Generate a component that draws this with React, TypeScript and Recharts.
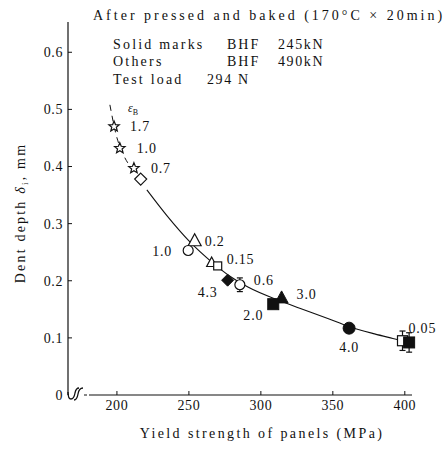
import { ComposedChart, ErrorBar, Line, Scatter, XAxis, YAxis } from "recharts"

const xTicks = [200, 250, 300, 350, 400]
const yTicks = [0, 0.1, 0.2, 0.3, 0.4, 0.5, 0.6]

// measured points: yield strength (MPa) vs dent depth (mm)
const strength = [198, 202, 211.8, 216.5, 254, 249.5, 265.8, 270, 276.9, 285.4, 314.4, 308.6, 361.3, 398.4, 403]
const depth = [0.47, 0.432, 0.397, 0.378, 0.27, 0.253, 0.232, 0.226, 0.201, 0.193, 0.17, 0.159, 0.117, 0.095, 0.092]
const markers = [
  "star", "star", "star", "diamond", "triangle", "circle", "triangleSmall", "squareSmall",
  "diamondFilled", "circle", "triangleFilled", "squareFilled", "circleFilled", "square", "squareFilled",
]
const strainLabels = ["1.7", "1.0", "0.7", "", "0.2", "1.0", "0.15", "", "4.3", "0.6", "3.0", "2.0", "4.0", "0.05", ""]
const depthError = [0, 0, 0, 0, 0, 0, 0, 0, 0, 0.012, 0, 0, 0, 0.017, 0.017]

// fitted curve
const curveStrength = [220.8, 234.7, 250.7, 265.3, 278.5, 291, 313.2, 327, 346.5, 361, 379, 391.7, 396.5]
const curveDepth = [0.359, 0.314, 0.268, 0.234, 0.208, 0.189, 0.165, 0.152, 0.134, 0.12, 0.107, 0.099, 0.096]

// dashed extension through the stars
const dashStrength = [195.1, 199.5, 205, 213.9]
const dashDepth = [0.508, 0.455, 0.418, 0.389]

// label placement per point: [dx, dy, anchor]
const labelPlacement: [number, number, string][] = [
  [16, 0, "start"], [17, 0, "start"], [17, 0, "start"], [0, 0, "start"],
  [10, 0, "start"], [-16, 1, "end"], [15, -3, "start"], [0, 0, "start"],
  [-10, 12, "end"], [14, -5, "start"], [15, -4, "start"], [-10, 11, "end"],
  [0, 19, "middle"], [6, -13, "start"], [0, 0, "start"],
]

const points = strength.map((x, i) => ({ x, y: depth[i], i, err: depthError[i] }))
const errPoints = points.filter((p) => p.err > 0)
const curve = curveStrength.map((x, i) => ({ x, y: curveDepth[i] }))
const dashed = dashStrength.map((x, i) => ({ x, y: dashDepth[i] }))

const FONT = '"Liberation Serif", "DejaVu Serif", serif'
const INK = "#111"

function starPath(cx: number, cy: number, r: number, ri: number) {
  let d = ""
  for (let k = 0; k < 10; k++) {
    const rad = k % 2 === 0 ? r : ri
    const a = -Math.PI / 2 + (k * Math.PI) / 5
    d += `${k === 0 ? "M" : "L"}${cx + rad * Math.cos(a)},${cy + rad * Math.sin(a)}`
  }
  return d + "Z"
}

function Marker({ kind, cx, cy }: { kind: string; cx: number; cy: number }) {
  const open = { fill: "#fff", stroke: INK, strokeWidth: 1.2 }
  const solid = { fill: INK, stroke: INK, strokeWidth: 1 }
  switch (kind) {
    case "star":
      return <path d={starPath(cx, cy, 5.5, 2.4)} {...open} />
    case "diamond":
      return <path d={`M${cx},${cy - 6}L${cx + 6},${cy}L${cx},${cy + 6}L${cx - 6},${cy}Z`} {...open} />
    case "diamondFilled":
      return <path d={`M${cx},${cy - 6}L${cx + 6},${cy}L${cx},${cy + 6}L${cx - 6},${cy}Z`} {...solid} />
    case "triangle":
      return <path d={`M${cx},${cy - 7}L${cx + 6.5},${cy + 5}L${cx - 6.5},${cy + 5}Z`} {...open} />
    case "triangleSmall":
      return <path d={`M${cx},${cy - 5.5}L${cx + 5},${cy + 4}L${cx - 5},${cy + 4}Z`} {...open} />
    case "triangleFilled":
      return <path d={`M${cx},${cy - 7}L${cx + 6.5},${cy + 5}L${cx - 6.5},${cy + 5}Z`} {...solid} />
    case "circle":
      return <circle cx={cx} cy={cy} r={5} {...open} />
    case "circleFilled":
      return <circle cx={cx} cy={cy} r={6} {...solid} />
    case "square":
      return <rect x={cx - 5} y={cy - 5} width={10} height={10} {...open} />
    case "squareSmall":
      return <rect x={cx - 4} y={cy - 4} width={8} height={8} {...open} />
    case "squareFilled":
      return <rect x={cx - 5.5} y={cy - 5.5} width={11} height={11} {...solid} />
    default:
      return null
  }
}

function PointShape(props: any) {
  const { cx, cy, payload } = props
  if (cx == null || cy == null) return <g />
  const i = payload.i
  const [dx, dy, anchor] = labelPlacement[i]
  return (
    <g>
      <Marker kind={markers[i]} cx={cx} cy={cy} />
      {strainLabels[i] && (
        <text
          x={cx + dx}
          y={cy + dy}
          dy="0.35em"
          textAnchor={anchor as any}
          fontFamily={FONT}
          fontSize={14}
          letterSpacing={0.8}
          fill={INK}
        >
          {strainLabels[i]}
        </text>
      )}
    </g>
  )
}

const tickStyle = { fontFamily: FONT, fontSize: 14, fill: INK, letterSpacing: 0.6 }

export default function App() {
  return (
    <div style={{ position: "absolute", left: 0, top: 0, width: 444, height: 450, background: "#fff" }}>
      <ComposedChart width={444} height={450} margin={{ top: 22, right: 32, bottom: 25, left: 8 }}>
        <XAxis
          type="number"
          dataKey="x"
          domain={[166, 405]}
          ticks={xTicks}
          height={30}
          tickSize={-4}
          tickMargin={9}
          tick={tickStyle}
          axisLine={{ stroke: INK, strokeWidth: 1.2 }}
          tickLine={{ stroke: INK }}
        />
        <YAxis
          type="number"
          dataKey="y"
          domain={[0, 0.653]}
          ticks={yTicks}
          width={60}
          tickSize={-4}
          tickMargin={9}
          tick={tickStyle}
          tickFormatter={(v: number) => (v === 0 ? "0" : v.toFixed(1))}
          axisLine={{ stroke: INK, strokeWidth: 1.2 }}
          tickLine={{ stroke: INK }}
        />
        <Line
          data={dashed}
          dataKey="y"
          type="monotone"
          stroke={INK}
          strokeWidth={1}
          strokeDasharray="6 5"
          dot={false}
          isAnimationActive={false}
        />
        <Line
          data={curve}
          dataKey="y"
          type="monotone"
          stroke={INK}
          strokeWidth={1.1}
          dot={false}
          isAnimationActive={false}
        />
        <Scatter data={errPoints} dataKey="y" shape={() => <g />} isAnimationActive={false}>
          <ErrorBar dataKey="err" direction="y" width={3} stroke={INK} strokeWidth={1.2} />
        </Scatter>
        <Scatter data={points} dataKey="y" shape={PointShape} isAnimationActive={false} />
      </ComposedChart>
      <svg
        width={444}
        height={450}
        style={{ position: "absolute", left: 0, top: 0, pointerEvents: "none" }}
        fontFamily={FONT}
        fontSize={14}
        fill={INK}
      >
        <text x={93} y={15} dy="0.35em" letterSpacing={3}>
          After pressed and baked (170°C × 20min)
        </text>
        <text x={113} y={44} dy="0.35em" letterSpacing={2.2}>Solid marks</text>
        <text x={227} y={44} dy="0.35em" letterSpacing={2}>BHF</text>
        <text x={278} y={44} dy="0.35em" letterSpacing={1.6}>245kN</text>
        <text x={113} y={61} dy="0.35em" letterSpacing={2.2}>Others</text>
        <text x={227} y={61} dy="0.35em" letterSpacing={2}>BHF</text>
        <text x={278} y={61} dy="0.35em" letterSpacing={1.6}>490kN</text>
        <text x={113} y={79} dy="0.35em" letterSpacing={2.2}>Test load</text>
        <text x={207} y={79} dy="0.35em" letterSpacing={1.6}>294 N</text>
        <text x={128} y={108} dy="0.35em" fontSize={12} fontStyle="italic">
          ε<tspan fontSize={8} dy={3} fontStyle="normal">B</tspan>
        </text>
        <text x={262} y={433} dy="0.35em" textAnchor="middle" letterSpacing={2.4}>
          Yield strength of panels (MPa)
        </text>
        <text
          x={20}
          y={213}
          dy="0.35em"
          textAnchor="middle"
          letterSpacing={2.2}
          transform="rotate(-90 20 213)"
        >
          Dent depth <tspan fontStyle="italic">δ</tspan>
          <tspan fontSize={9} dy={3}>i</tspan>
          <tspan dy={-3}>, mm</tspan>
        </text>
        {/* axis break at the origin */}
        <rect x={69} y={392} width={23} height={6} fill="#fff" />
        <path d="M68,392 Q68,399 71,399 Q74,399 75,393 Q76,388 79,388" fill="none" stroke={INK} strokeWidth={1.3} />
        <path d="M74,400 Q77,400 78,394 Q79,388 83,388" fill="none" stroke={INK} strokeWidth={1.3} />
        <path d="M84,395 L87,395 M89,395 L92,395" stroke={INK} strokeWidth={1} />
      </svg>
    </div>
  )
}
